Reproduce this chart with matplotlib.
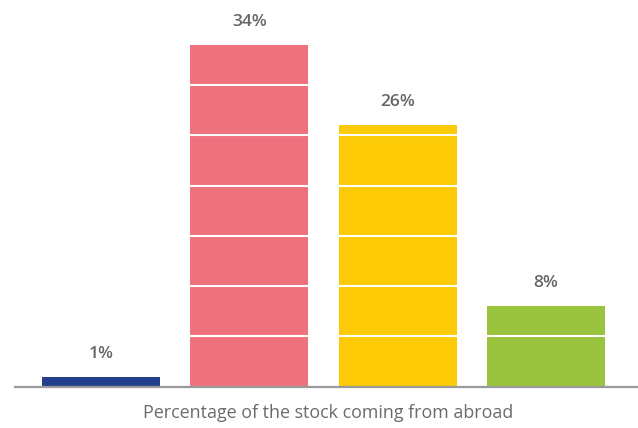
import matplotlib.pyplot as plt

# share of stock coming from abroad, one bar per group
values = [1, 34, 26, 8]
labels = ["1%", "34%", "26%", "8%"]
colors = ["#233e8d", "#f0717e", "#fdca06", "#9ac33e"]
grid_levels = [5, 10, 15, 20, 25, 30]

plt.rcParams['font.family'] = ['Open Sans', 'DejaVu Sans']

fig = plt.figure(figsize=(6.38, 4.28), dpi=100)
ax = fig.add_axes([15 / 638, (428 - 386.7) / 428, 1 - 15 / 638, 386.7 / 428])

x = list(range(len(values)))
ax.bar(x, values, width=0.796, color=colors, zorder=2)

# white separators across the bars
for g in grid_levels:
    ax.axhline(g, color="white", lw=1.5, zorder=3)

for xi, v, lab in zip(x, values, labels):
    ax.text(xi, v + 2.3, lab, ha="center", va="center", fontsize=12.5,
            fontweight="semibold", color="#666666")

ax.set_xlim(-0.58, 3.62)
ax.set_ylim(0, 38.48)
ax.set_xticks([])
ax.set_yticks([])
for s in ["top", "right", "left"]:
    ax.spines[s].set_visible(False)
ax.spines["bottom"].set_color("#9a9a9a")
ax.spines["bottom"].set_linewidth(1.6)
ax.spines["bottom"].set_zorder(4)

fig.text(328 / 638, 1 - 413 / 428, "Percentage of the stock coming from abroad",
         ha="center", va="center", fontsize=12.9, color="#6b6b6b")

fig.savefig("out.png", dpi=100)
